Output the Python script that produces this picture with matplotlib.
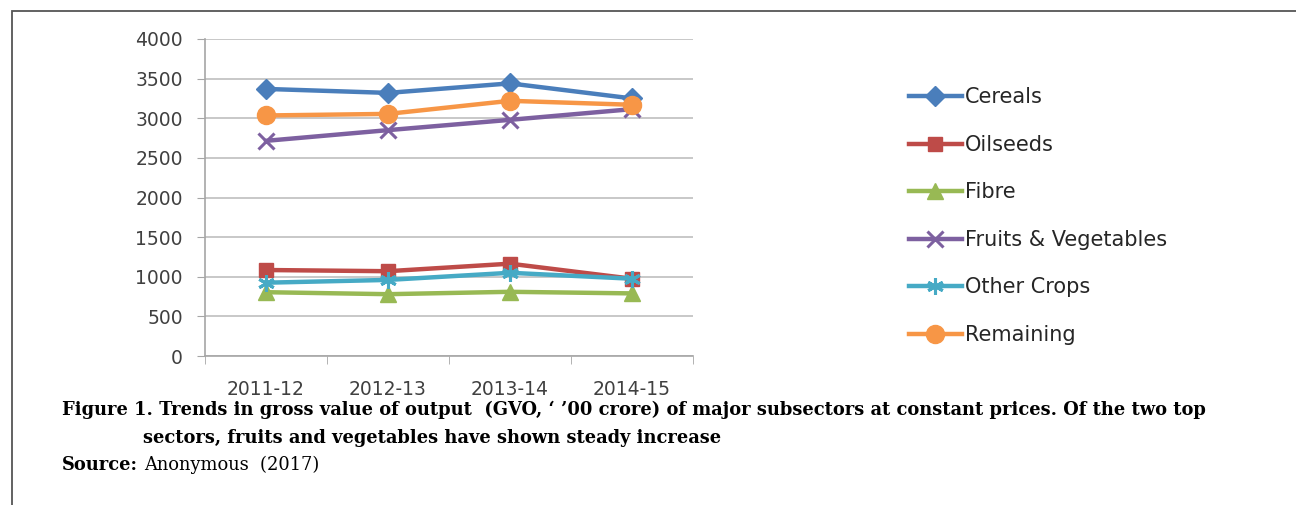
import matplotlib
matplotlib.use("Agg")
import matplotlib.pyplot as plt
from matplotlib.patches import Rectangle

# ---- data ----
years = ["2011-12", "2012-13", "2013-14", "2014-15"]
cereals = [3370, 3320, 3440, 3250]
oilseeds = [1085, 1070, 1165, 975]
fibre = [805, 780, 810, 790]
fruits_veg = [2715, 2850, 2980, 3115]
other_crops = [925, 960, 1050, 975]
remaining = [3035, 3055, 3220, 3170]
series_names = ["Cereals", "Oilseeds", "Fibre", "Fruits & Vegetables", "Other Crops", "Remaining"]
y_ticks = [0, 500, 1000, 1500, 2000, 2500, 3000, 3500, 4000]

series = [cereals, oilseeds, fibre, fruits_veg, other_crops, remaining]
colors = ["#4A7EBB", "#BE4B48", "#98B954", "#7D60A0", "#46AAC5", "#F79646"]
markers = ["D", "s", "^", "x", (6, 2, 0), "o"]
msizes = [10, 10, 11, 11, 12, 13]

W, H = 1296, 505
fig = plt.figure(figsize=(W / 100, H / 100), dpi=100)
fig.patch.set_facecolor("white")

# chart frame
fig.add_artist(Rectangle((12 / W, -0.05), 1.2, 1 - 11 / H + 0.05, transform=fig.transFigure,
                         fill=False, edgecolor="#555555", linewidth=1.3))

ax = fig.add_axes([205 / W, 1 - 356 / H, 488 / W, 317 / H])
x = list(range(len(years)))
for vals, c, m, ms, name in zip(series, colors, markers, msizes, series_names):
    mew = 2.2 if m in ("x", (6, 2, 0)) else 1
    ax.plot(x, vals, color=c, linewidth=3.2, marker=m, markersize=ms,
            markeredgewidth=mew, markeredgecolor=c, markerfacecolor=c, label=name)

ax.set_xlim(-0.5, 3.5)
ax.set_ylim(0, 4000)
ax.set_yticks(y_ticks)
ax.set_yticklabels([str(v) for v in y_ticks])
ax.set_xticks(x)
ax.set_xticklabels(years)
ax.set_xticks([-0.5, 0.5, 1.5, 2.5, 3.5], minor=True)
ax.tick_params(axis="x", which="major", length=0, pad=17)
ax.tick_params(axis="x", which="minor", length=6, color="#A6A6A6", direction="out")
ax.tick_params(axis="y", length=6, color="#A6A6A6", pad=10)
for lab in ax.get_xticklabels() + ax.get_yticklabels():
    lab.set_fontfamily("DejaVu Sans")
    lab.set_fontsize(13.5)
    lab.set_color("#404040")
ax.grid(axis="y", color="#BFBFBF", linewidth=1.2)
ax.set_axisbelow(True)
for s in ["top", "right"]:
    ax.spines[s].set_visible(False)
ax.spines["left"].set_color("#A6A6A6")
ax.spines["bottom"].set_color("#A6A6A6")
ax.spines["left"].set_linewidth(1.2)
ax.spines["bottom"].set_linewidth(1.2)

# legend
handles, labels = ax.get_legend_handles_labels()
leg = fig.legend(handles, labels, loc="upper left", bbox_to_anchor=(899 / W, 1 - 77 / H),
                 frameon=False, prop={"family": "DejaVu Sans", "size": 15},
                 handlelength=2.5, handletextpad=0.15, labelspacing=1.32, borderpad=0)
for t in leg.get_texts():
    t.set_color("#262626")

# caption
serif = "DejaVu Serif"
fs = 12.9
fig.text(62 / W, 1 - 410 / H,
         "Figure 1. Trends in gross value of output  (GVO, \u2018 \u201900 crore) of major subsectors at constant prices. Of the two top",
         fontsize=fs, fontweight="bold", family=serif, va="center", ha="left")
fig.text(143 / W, 1 - 438 / H,
         "sectors, fruits and vegetables have shown steady increase",
         fontsize=fs, fontweight="bold", family=serif, va="center", ha="left")
t1 = fig.text(62 / W, 1 - 465 / H, "Source:", fontsize=fs, fontweight="bold",
              family=serif, va="center", ha="left")
fig.canvas.draw()
bb = t1.get_window_extent()
fig.text((bb.x1 + 6) / W, 1 - 465 / H, "Anonymous  (2017)", fontsize=fs,
         family=serif, va="center", ha="left")

fig.savefig("out.png", dpi=100)
